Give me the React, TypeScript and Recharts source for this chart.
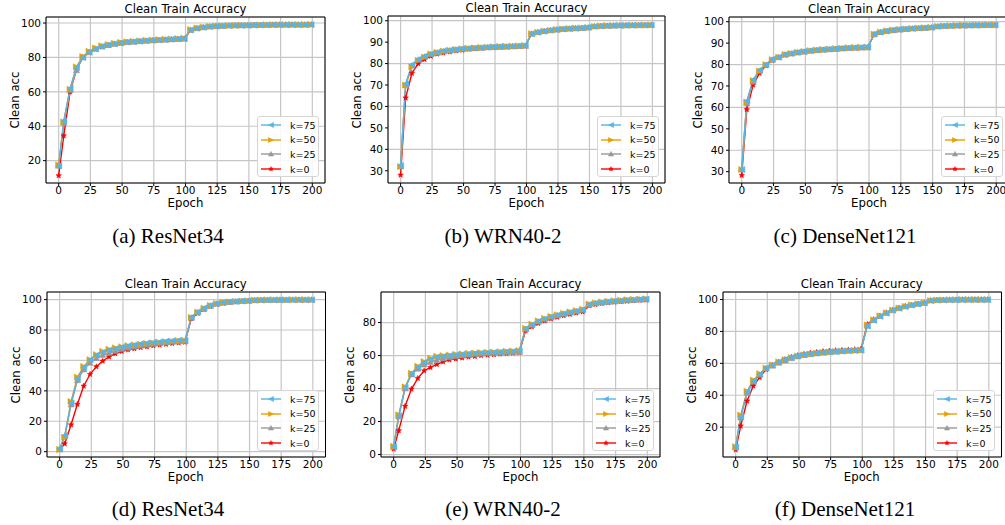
import { CartesianGrid, Line, LineChart, ReferenceArea, XAxis, YAxis } from "recharts"

// epochs where the markers sit
const EPOCHS = [0, 4, 9, 14, 19, 24, 29, 34, 39, 44, 49, 54, 59, 64, 69, 74, 79, 84, 89, 94, 99, 104, 109, 114, 119, 124, 129, 134, 139, 144, 149, 154, 159, 164, 169, 174, 179, 184, 189, 194, 199]
const X_TICKS = [0, 25, 50, 75, 100, 125, 150, 175, 200]

// (a) ResNet34
const A_K75 = [17, 43, 62, 74, 80, 83, 85, 86.5, 87.3, 88, 88.5, 89, 89.2, 89.5, 89.8, 90, 90.2, 90.4, 90.6, 90.8, 91, 96, 97, 97.5, 98, 98.2, 98.4, 98.5, 98.6, 98.6, 98.7, 98.8, 98.9, 98.9, 99, 99, 99, 99, 99, 99.1, 99.1]
const A_K50 = [17.5, 42.5, 61.5, 74.5, 80.5, 83.5, 85.5, 86.8, 87.5, 88.2, 88.7, 89.1, 89.3, 89.6, 89.9, 90.1, 90.3, 90.5, 90.7, 90.9, 91.1, 96.2, 97.1, 97.6, 98, 98.2, 98.4, 98.5, 98.6, 98.7, 98.7, 98.8, 98.9, 98.9, 99, 99, 99, 99.1, 99.1, 99.1, 99.1]
const A_K25 = [17, 42, 61, 72.5, 80, 83, 85, 86.3, 87.2, 87.9, 88.4, 88.9, 89.1, 89.4, 89.7, 89.9, 90.1, 90.3, 90.5, 90.7, 90.9, 96, 97, 97.5, 97.9, 98.2, 98.3, 98.5, 98.6, 98.6, 98.7, 98.8, 98.8, 98.9, 99, 99, 99, 99, 99, 99, 99.1]
const A_K0 = [11.3, 34.5, 60, 73, 80, 83, 84.8, 86.2, 87, 87.7, 88.3, 88.8, 89, 89.3, 89.6, 89.8, 90, 90.2, 90.4, 90.6, 90.8, 95.8, 96.8, 97.4, 97.8, 98.1, 98.3, 98.4, 98.5, 98.6, 98.7, 98.8, 98.8, 98.9, 98.9, 99, 99, 99, 99, 99, 99]

// (b) WRN40-2
const B_K75 = [32.5, 70.5, 79.5, 82, 83.5, 84.5, 85.3, 86, 86.3, 86.6, 87, 87.2, 87.3, 87.5, 87.7, 87.8, 88, 88, 88.2, 88.3, 88.5, 94, 94.7, 95.2, 95.6, 96, 96.2, 96.4, 96.5, 96.7, 96.9, 97.4, 97.6, 97.7, 97.8, 97.8, 97.9, 97.9, 98, 98, 98]
const B_K50 = [32, 70, 78.5, 81.5, 83, 84.5, 85.2, 85.8, 86.2, 86.6, 86.9, 87.1, 87.3, 87.5, 87.6, 87.8, 87.9, 88, 88.1, 88.2, 88.4, 94, 94.6, 95.1, 95.5, 95.9, 96.1, 96.3, 96.5, 96.6, 96.8, 97.4, 97.6, 97.7, 97.7, 97.8, 97.8, 97.9, 97.9, 98, 98]
const B_K25 = [32, 70, 79, 81.8, 83.2, 84.3, 85.1, 85.7, 86.1, 86.5, 86.8, 87, 87.2, 87.4, 87.6, 87.7, 87.8, 87.9, 88, 88.2, 88.3, 93.9, 94.6, 95.1, 95.5, 95.8, 96.1, 96.3, 96.4, 96.6, 96.8, 97.3, 97.5, 97.6, 97.7, 97.8, 97.8, 97.9, 97.9, 97.9, 98]
const B_K0 = [28, 64, 75.5, 80, 82, 83.5, 84.5, 85, 85.5, 86, 86.3, 86.7, 87, 87.2, 87.4, 87.5, 87.6, 87.8, 88, 88, 88.2, 93.8, 94.5, 95, 95.5, 95.8, 96, 96.2, 96.4, 96.5, 96.7, 97.3, 97.5, 97.6, 97.7, 97.7, 97.8, 97.8, 97.9, 97.9, 98]

// (c) DenseNet121
const C_K75 = [31, 63, 73, 77.5, 80, 82.5, 83.5, 84.8, 85.3, 85.8, 86.2, 86.6, 86.9, 87.1, 87.3, 87.5, 87.7, 87.9, 88, 88.1, 88.2, 94.3, 95.3, 95.8, 96.2, 96.5, 96.7, 96.9, 97.1, 97.2, 97.4, 97.9, 98.1, 98.2, 98.3, 98.3, 98.4, 98.4, 98.5, 98.5, 98.5]
const C_K50 = [31, 62.5, 72.5, 77, 80, 82.3, 83.5, 84.7, 85.2, 85.7, 86.1, 86.5, 86.8, 87, 87.2, 87.4, 87.6, 87.8, 87.9, 88, 88.1, 94.2, 95.2, 95.7, 96.1, 96.4, 96.6, 96.8, 97, 97.1, 97.3, 97.8, 98, 98.1, 98.2, 98.3, 98.3, 98.4, 98.4, 98.5, 98.5]
const C_K25 = [31, 62, 72, 77, 79.8, 82.2, 83.4, 84.6, 85.1, 85.6, 86, 86.4, 86.7, 86.9, 87.1, 87.3, 87.5, 87.7, 87.8, 87.9, 88, 94.1, 95.1, 95.6, 96, 96.3, 96.6, 96.8, 97, 97.1, 97.3, 97.8, 98, 98.1, 98.2, 98.2, 98.3, 98.3, 98.4, 98.4, 98.4]
const C_K0 = [28.3, 59, 70.5, 76, 79.5, 82, 83.3, 84.5, 85, 85.5, 85.9, 86.3, 86.6, 86.8, 87, 87.2, 87.4, 87.6, 87.7, 87.8, 87.9, 94, 95, 95.5, 95.9, 96.2, 96.5, 96.7, 96.9, 97, 97.2, 97.7, 97.9, 98, 98.1, 98.2, 98.2, 98.3, 98.3, 98.4, 98.4]

// (d) ResNet34
const D_K75 = [2, 10.7, 32, 48, 55.5, 60.5, 63.5, 65.5, 66.8, 67.8, 68.8, 69.6, 70.3, 71, 71.5, 72, 72.3, 72.7, 73, 73.3, 73.2, 88.5, 92, 94.5, 96.3, 97.5, 98.2, 98.6, 98.9, 99.1, 99.3, 99.7, 99.7, 99.8, 99.8, 99.8, 99.9, 99.9, 99.9, 99.9, 99.9]
const D_K50 = [1.5, 9.5, 33, 49, 56, 60.5, 63.8, 66, 67.3, 68.3, 69, 69.7, 70.2, 70.6, 71, 71.5, 71.8, 72.2, 72.5, 72.8, 73, 88.3, 91.8, 94.3, 96.2, 97.4, 98.1, 98.5, 98.8, 99, 99.2, 99.6, 99.7, 99.8, 99.8, 99.8, 99.8, 99.9, 99.9, 99.9, 99.9]
const D_K25 = [1.5, 10, 31, 47, 54, 58.5, 61.5, 63.5, 65, 66.3, 67.5, 68.3, 69, 69.7, 70.3, 70.8, 71.3, 71.8, 72.2, 72.5, 72.8, 88, 91.5, 94, 96, 97.2, 98, 98.4, 98.7, 99, 99.2, 99.6, 99.7, 99.7, 99.8, 99.8, 99.8, 99.9, 99.9, 99.9, 99.9]
const D_K0 = [1.5, 5.2, 17.7, 31.2, 43.2, 50.9, 55.9, 59.6, 62.4, 64.5, 66, 67, 67.8, 68.5, 69.1, 69.7, 70.2, 70.7, 71.2, 71.6, 72, 87.5, 91, 93.5, 95.5, 97, 97.7, 98.2, 98.6, 98.9, 99.1, 99.5, 99.6, 99.7, 99.7, 99.8, 99.8, 99.8, 99.8, 99.8, 99.8]

// (e) WRN40-2
const E_K75 = [4.8, 23.5, 40.5, 49, 53, 55.8, 57.8, 59.2, 59.6, 60, 60.4, 60.8, 61.1, 61.4, 61.6, 61.8, 62, 62.2, 62.4, 62.5, 62.7, 76.3, 78.8, 80.8, 82.3, 83.5, 84.5, 85.4, 86.2, 87, 87.8, 91, 91.8, 92.3, 92.7, 93, 93.3, 93.6, 93.8, 94, 94.2]
const E_K50 = [5, 24, 41, 49.3, 53.5, 56.3, 58.3, 59.5, 59.9, 60.3, 60.7, 61, 61.3, 61.5, 61.7, 61.9, 62.1, 62.3, 62.5, 62.7, 63, 76.5, 79, 81, 82.5, 83.7, 84.7, 85.6, 86.4, 87.2, 88, 91.2, 92, 92.5, 92.9, 93.2, 93.5, 93.8, 94, 94.2, 94.4]
const E_K25 = [4.5, 23, 40, 48.5, 52, 54.5, 56, 57.3, 58.2, 58.9, 59.5, 60, 60.4, 60.8, 61, 61.3, 61.5, 61.7, 62, 62.2, 62.3, 76, 78.5, 80.5, 82, 83.3, 84.3, 85.2, 86, 86.8, 87.6, 90.8, 91.6, 92.1, 92.5, 92.9, 93.2, 93.5, 93.7, 93.9, 94.1]
const E_K0 = [3.4, 14.5, 29.3, 39.7, 46.2, 50.8, 52.8, 54.6, 56.2, 57.4, 58, 58.6, 59.1, 59.5, 60, 60.3, 60.6, 61, 61.3, 61.5, 61.8, 75, 77.5, 79.5, 81, 82.3, 83.3, 84.2, 85, 85.8, 86.5, 90.2, 91, 91.6, 92, 92.4, 92.7, 93, 93.3, 93.5, 93.7]

// (f) DenseNet121
const F_K75 = [7.5, 26.6, 42.2, 49, 53.2, 57.2, 59, 61, 62.5, 63.8, 64.8, 65.5, 66, 66.5, 66.9, 67.2, 67.5, 67.7, 67.9, 68.1, 68.3, 83.5, 87, 89.5, 91.5, 93.3, 94.5, 95.6, 96.5, 97.2, 97.8, 99.3, 99.6, 99.7, 99.8, 99.8, 99.9, 99.9, 99.9, 99.9, 99.9]
const F_K50 = [7.8, 27.5, 42.5, 49.5, 53.5, 57, 59, 61, 62.3, 63.6, 64.6, 65.3, 65.8, 66.3, 66.7, 67, 67.3, 67.6, 67.8, 68, 68.3, 84, 87.3, 89.8, 91.7, 93.4, 94.6, 95.7, 96.6, 97.3, 97.9, 99.3, 99.6, 99.7, 99.8, 99.8, 99.9, 99.9, 99.9, 99.9, 99.9]
const F_K25 = [7.2, 26, 41.5, 48.5, 52.8, 56.8, 58.5, 60.3, 61.8, 63.2, 64.3, 65.1, 65.7, 66.2, 66.6, 67, 67.3, 67.6, 67.8, 68, 68.2, 83.5, 87, 89.5, 91.5, 93.2, 94.5, 95.6, 96.5, 97.2, 97.8, 99.3, 99.6, 99.7, 99.8, 99.8, 99.9, 99.9, 99.9, 99.9, 99.9]
const F_K0 = [5.8, 20.8, 36.4, 45.9, 51.2, 56.2, 58.8, 60.8, 62.5, 63.9, 65, 65.8, 66.5, 67, 67.5, 67.8, 68.1, 68.3, 68.5, 68.7, 69, 84.5, 87.5, 89.8, 91.8, 93.5, 94.7, 95.8, 96.6, 97.3, 97.9, 99.4, 99.6, 99.7, 99.8, 99.8, 99.9, 99.9, 99.9, 99.9, 99.9]

type Shape = "left" | "right" | "up" | "star"
type Key = "k75" | "k50" | "k25" | "k0"

const SERIES: { key: Key; name: string; color: string; shape: Shape }[] = [
  { key: "k75", name: "k=75", color: "#56B4E9", shape: "left" },
  { key: "k50", name: "k=50", color: "#E69F00", shape: "right" },
  { key: "k25", name: "k=25", color: "#999999", shape: "up" },
  { key: "k0", name: "k=0", color: "#FF0000", shape: "star" },
]
// red drawn first, blue on top
const DRAW_ORDER = [...SERIES].reverse()

const FONT = "'DejaVu Sans', sans-serif"

function buildRows(k75: number[], k50: number[], k25: number[], k0: number[]) {
  return EPOCHS.map((epoch, i) => ({ epoch, k75: k75[i], k50: k50[i], k25: k25[i], k0: k0[i] }))
}

function markerPath(shape: Shape, cx: number, cy: number, r: number) {
  if (shape === "left") return `M${cx - r},${cy}L${cx + r},${cy - r}L${cx + r},${cy + r}Z`
  if (shape === "right") return `M${cx + r},${cy}L${cx - r},${cy - r}L${cx - r},${cy + r}Z`
  if (shape === "up") return `M${cx},${cy - r}L${cx + r},${cy + r * 0.8}L${cx - r},${cy + r * 0.8}Z`
  let d = ""
  for (let i = 0; i < 10; i++) {
    const rr = i % 2 === 0 ? r : r * 0.45
    const a = -Math.PI / 2 + (i * Math.PI) / 5
    d += `${i === 0 ? "M" : "L"}${cx + rr * Math.cos(a)},${cy + rr * Math.sin(a)}`
  }
  return d + "Z"
}

const markerSize = (shape: Shape) => (shape === "star" ? 2.9 : 3.1)

type Plot = { l: number; t: number; r: number; b: number }

function Centered({ x, y, size, rotate, serif, children }: any) {
  return (
    <div
      style={{
        position: "absolute",
        left: x,
        top: y,
        transform: `translate(-50%, -50%)${rotate ? " rotate(-90deg)" : ""}`,
        whiteSpace: "nowrap",
        lineHeight: 1,
        fontSize: size,
        fontFamily: serif ? "'Liberation Serif', serif" : FONT,
        color: "#000",
      }}
    >
      {children}
    </div>
  )
}

function LegendBox({ plot }: { plot: Plot }) {
  const w = 62
  const h = 61
  return (
    <div
      style={{
        position: "absolute",
        left: plot.r - 6 - w,
        top: plot.b - 6 - h,
        width: w,
        height: h,
        boxSizing: "border-box",
        border: "1px solid #d6d6d6",
        borderRadius: 3,
        background: "rgba(255,255,255,0.85)",
        fontFamily: FONT,
        fontSize: 9.5,
        paddingTop: 1,
      }}
    >
      {SERIES.map((s) => (
        <div key={s.key} style={{ display: "flex", alignItems: "center", height: 14.6 }}>
          <svg width={26} height={10} style={{ marginLeft: 2 }}>
            <line x1={1} y1={5} x2={21} y2={5} stroke={s.color} strokeWidth={1.4} />
            <path d={markerPath(s.shape, 11, 5, markerSize(s.shape) - 0.5)} fill={s.color} stroke={s.color} strokeWidth={0.5} />
          </svg>
          <span style={{ marginLeft: 4 }}>{s.name}</span>
        </div>
      ))}
    </div>
  )
}

function Panel({ plot, yDomain, yTicks, rows, caption, capX, capY }: {
  plot: Plot
  yDomain: [number, number]
  yTicks: number[]
  rows: ReturnType<typeof buildRows>
  caption: string
  capX: number
  capY: number
}) {
  const w = plot.r - plot.l
  const h = plot.b - plot.t
  const tick = { fontSize: 10.5, fill: "#000", fontFamily: FONT }
  return (
    <>
      <div style={{ position: "absolute", left: plot.l - 60, top: plot.t - 30 }}>
        <LineChart width={w + 70} height={h + 60} data={rows} margin={{ top: 30, right: 10, left: 0, bottom: 0 }}>
          <CartesianGrid stroke="#c6c6c6" strokeWidth={1.2} />
          <XAxis
            dataKey="epoch"
            type="number"
            domain={[-10, 210]}
            ticks={X_TICKS}
            height={30}
            tickSize={3}
            tickMargin={0.5}
            axisLine={false}
            tickLine={{ stroke: "#000" }}
            tick={tick}
            allowDataOverflow
          />
          <YAxis
            type="number"
            domain={yDomain}
            ticks={yTicks}
            width={60}
            tickSize={3}
            tickMargin={2}
            axisLine={false}
            tickLine={{ stroke: "#000" }}
            tick={tick}
            allowDataOverflow
          />
          {DRAW_ORDER.map((s) => (
            <Line
              key={s.key}
              type="linear"
              dataKey={s.key}
              name={s.name}
              stroke={s.color}
              strokeWidth={1.4}
              isAnimationActive={false}
              dot={(p: any) => (
                <path
                  key={`${s.key}-${p.index}`}
                  d={markerPath(s.shape, p.cx, p.cy, markerSize(s.shape))}
                  fill={s.color}
                  stroke={s.color}
                  strokeWidth={0.5}
                />
              )}
              activeDot={false}
            />
          ))}
          <ReferenceArea x1={-10} x2={210} y1={yDomain[0]} y2={yDomain[1]} fill="none" stroke="#000" strokeWidth={1} />
        </LineChart>
      </div>
      <Centered x={(plot.l + plot.r) / 2} y={plot.t - 7.5} size={11.7}>Clean Train Accuracy</Centered>
      <Centered x={plot.l - 30} y={(plot.t + plot.b) / 2} size={11.7} rotate>Clean acc</Centered>
      <Centered x={(plot.l + plot.r) / 2} y={plot.b + 21} size={11.7}>Epoch</Centered>
      <LegendBox plot={plot} />
      <Centered x={capX} y={capY} size={21} serif>{caption}</Centered>
    </>
  )
}

export default function App() {
  return (
    <div style={{ position: "fixed", left: 0, top: 0, width: 1005, height: 525, overflow: "hidden", background: "#fff" }}>
      <Panel plot={{ l: 46, t: 17, r: 325, b: 183 }} yDomain={[7, 103.5]} yTicks={[20, 40, 60, 80, 100]}
        rows={buildRows(A_K75, A_K50, A_K25, A_K0)} caption="(a)  ResNet34" capX={168} capY={236} />
      <Panel plot={{ l: 388, t: 16, r: 665, b: 183 }} yDomain={[24.3, 102.2]} yTicks={[30, 40, 50, 60, 70, 80, 90, 100]}
        rows={buildRows(B_K75, B_K50, B_K25, B_K0)} caption="(b)  WRN40-2" capX={503} capY={236} />
      <Panel plot={{ l: 729, t: 17, r: 1009, b: 183 }} yDomain={[24.7, 102.2]} yTicks={[30, 40, 50, 60, 70, 80, 90, 100]}
        rows={buildRows(C_K75, C_K50, C_K25, C_K0)} caption="(c)  DenseNet121" capX={845} capY={236} />
      <Panel plot={{ l: 46.5, t: 292, r: 325, b: 457 }} yDomain={[-3.5, 105]} yTicks={[0, 20, 40, 60, 80, 100]}
        rows={buildRows(D_K75, D_K50, D_K25, D_K0)} caption="(d)  ResNet34" capX={168} capY={509} />
      <Panel plot={{ l: 381, t: 292, r: 660, b: 457 }} yDomain={[-1.5, 98.5]} yTicks={[0, 20, 40, 60, 80]}
        rows={buildRows(E_K75, E_K50, E_K25, E_K0)} caption="(e)  WRN40-2" capX={503} capY={509} />
      <Panel plot={{ l: 722.5, t: 292, r: 1001, b: 457 }} yDomain={[1.3, 104.7]} yTicks={[20, 40, 60, 80, 100]}
        rows={buildRows(F_K75, F_K50, F_K25, F_K0)} caption="(f)  DenseNet121" capX={845} capY={509} />
    </div>
  )
}
